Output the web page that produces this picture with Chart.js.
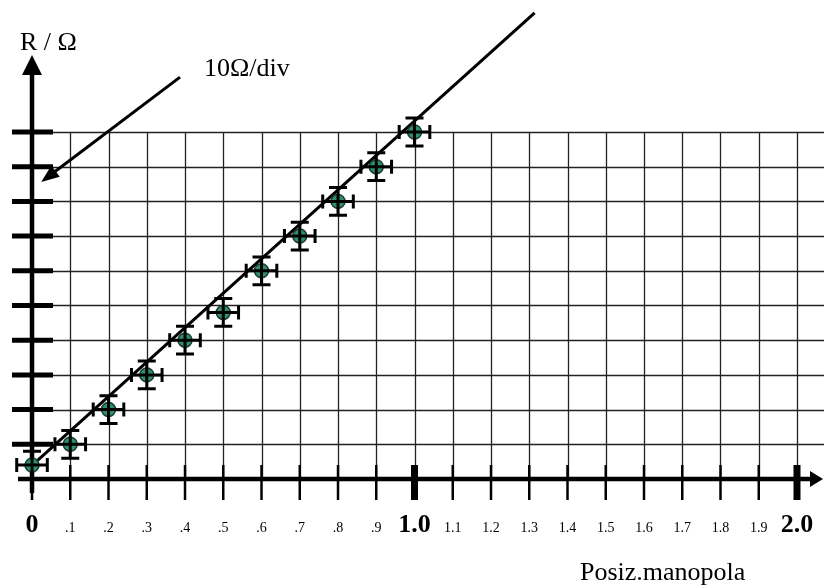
<!DOCTYPE html>
<html>
<head>
<meta charset="utf-8">
<script src="https://cdn.jsdelivr.net/npm/chart.js@4"></script>
<style>
  html, body { margin: 0; padding: 0; background: #fff; }
  #wrap { width: 824px; height: 586px; }
</style>
</head>
<body>
<div id="wrap"><canvas id="chart" width="824" height="586"></canvas></div>
<script>
// measured values (posizione manopola, R in ohm)
const posValues = [0, 0.1, 0.2, 0.3, 0.4, 0.5, 0.6, 0.7, 0.8, 0.9, 1.0];
const rValues = [4, 10, 20, 30, 40, 48, 60, 70, 80, 90, 100];
const posErr = [0.04, 0.04, 0.04, 0.04, 0.04, 0.04, 0.04, 0.04, 0.04, 0.04, 0.04];
const rErr = [4, 4, 4, 4, 4, 4, 4, 4, 4, 4, 4];

// fitted straight line, two ends
const fitX = [-0.013, 1.314];
const fitY = [2.6, 134.3];

// axis ticks
const xTicks = [0, 0.1, 0.2, 0.3, 0.4, 0.5, 0.6, 0.7, 0.8, 0.9, 1.0,
                1.1, 1.2, 1.3, 1.4, 1.5, 1.6, 1.7, 1.8, 1.9, 2.0];
const xTickLabels = ['0', '.1', '.2', '.3', '.4', '.5', '.6', '.7', '.8', '.9', '1.0',
                     '1.1', '1.2', '1.3', '1.4', '1.5', '1.6', '1.7', '1.8', '1.9', '2.0'];
const xMajor = ['0', '1.0', '2.0'];
const yTicks = [10, 20, 30, 40, 50, 60, 70, 80, 90, 100];

// "10 ohm/div" pointer, in data units
const noteTail = { x: 0.387, y: 115.8 };
const noteTip = { x: 0.024, y: 85.6 };

const SERIF = '"Liberation Serif", "DejaVu Serif", serif';

function arrowHead(ctx, tipX, tipY, fromX, fromY, len, half) {
    const a = Math.atan2(tipY - fromY, tipX - fromX);
    ctx.beginPath();
    ctx.moveTo(tipX, tipY);
    ctx.lineTo(tipX - len * Math.cos(a) + half * Math.sin(a), tipY - len * Math.sin(a) - half * Math.cos(a));
    ctx.lineTo(tipX - len * Math.cos(a) - half * Math.sin(a), tipY - len * Math.sin(a) + half * Math.cos(a));
    ctx.closePath();
    ctx.fill();
}

// grid, axes, ticks and labels drawn from the scales
const paperPlugin = {
    id: 'paper',
    beforeDatasetsDraw(chart) {
        const ctx = chart.ctx;
        const xs = chart.scales.x, ys = chart.scales.y;
        const x0 = xs.getPixelForValue(0);
        const y0 = ys.getPixelForValue(0);
        const yTop = ys.getPixelForValue(100);
        ctx.save();
        ctx.strokeStyle = '#222';
        ctx.lineWidth = 1.3;
        // horizontal grid
        yTicks.forEach(v => {
            const py = Math.round(ys.getPixelForValue(v)) + 0.5;
            ctx.beginPath();
            ctx.moveTo(x0, py);
            ctx.lineTo(chart.width, py);
            ctx.stroke();
        });
        // vertical grid
        xTicks.forEach(v => {
            if (v === 0) return;
            const px = Math.round(xs.getPixelForValue(v)) + 0.5;
            ctx.beginPath();
            ctx.moveTo(px, yTop);
            ctx.lineTo(px, y0);
            ctx.stroke();
        });

        ctx.strokeStyle = '#000';
        ctx.fillStyle = '#000';
        // x ticks
        xTicks.forEach((v, i) => {
            const px = xs.getPixelForValue(v);
            ctx.lineWidth = (xMajor.includes(xTickLabels[i]) && v !== 0) ? 7 : 2.5;
            ctx.beginPath();
            ctx.moveTo(px, y0 - 14);
            ctx.lineTo(px, y0 + 21);
            ctx.stroke();
        });
        // y ticks
        ctx.lineWidth = 5;
        yTicks.forEach(v => {
            const py = ys.getPixelForValue(v);
            ctx.beginPath();
            ctx.moveTo(x0 - 20, py);
            ctx.lineTo(x0 + 21, py);
            ctx.stroke();
        });

        // axes with arrows
        ctx.lineWidth = 4.5;
        ctx.beginPath();
        ctx.moveTo(x0 - 14, y0);
        ctx.lineTo(chart.width - 10, y0);
        ctx.stroke();
        arrowHead(ctx, chart.width - 1, y0, x0, y0, 13, 8);
        ctx.beginPath();
        ctx.moveTo(x0, y0 + 14);
        ctx.lineTo(x0, 70);
        ctx.stroke();
        arrowHead(ctx, x0, 55, x0, y0, 20, 10);

        // tick labels
        ctx.textAlign = 'center';
        ctx.textBaseline = 'alphabetic';
        xTicks.forEach((v, i) => {
            const lab = xTickLabels[i];
            const major = xMajor.includes(lab);
            ctx.font = major ? 'bold 26px ' + SERIF : '14px ' + SERIF;
            ctx.fillText(lab, xs.getPixelForValue(v), 532);
        });

        // titles
        ctx.textAlign = 'left';
        ctx.font = '26px ' + SERIF;
        ctx.fillText('R / Ω', 20, 50);
        ctx.fillText('10Ω/div', 204, 76);
        ctx.fillText('Posiz.manopola', 580, 580);

        // pointer arrow
        const tx = xs.getPixelForValue(noteTail.x), ty = ys.getPixelForValue(noteTail.y);
        const hx = xs.getPixelForValue(noteTip.x), hy = ys.getPixelForValue(noteTip.y);
        ctx.lineWidth = 3;
        ctx.beginPath();
        ctx.moveTo(tx, ty);
        ctx.lineTo(hx + (tx - hx) * 0.1, hy + (ty - hy) * 0.1);
        ctx.stroke();
        arrowHead(ctx, hx, hy, tx, ty, 18, 7);
        ctx.restore();
    },
    afterDatasetsDraw(chart) {
        const ctx = chart.ctx;
        const xs = chart.scales.x, ys = chart.scales.y;
        ctx.save();
        ctx.strokeStyle = '#000';
        ctx.lineWidth = 3;
        posValues.forEach((p, i) => {
            const px = xs.getPixelForValue(p), py = ys.getPixelForValue(rValues[i]);
            const xl = xs.getPixelForValue(p - posErr[i]), xr = xs.getPixelForValue(p + posErr[i]);
            const yt = ys.getPixelForValue(rValues[i] + rErr[i]), yb = ys.getPixelForValue(rValues[i] - rErr[i]);
            ctx.beginPath();
            ctx.moveTo(xl, py); ctx.lineTo(xr, py);
            ctx.moveTo(xl, py - 7); ctx.lineTo(xl, py + 7);
            ctx.moveTo(xr, py - 7); ctx.lineTo(xr, py + 7);
            ctx.moveTo(px, yt); ctx.lineTo(px, yb);
            ctx.moveTo(px - 9, yt); ctx.lineTo(px + 9, yt);
            ctx.moveTo(px - 9, yb); ctx.lineTo(px + 9, yb);
            ctx.stroke();
        });
        ctx.restore();
    }
};

const ctx = document.getElementById('chart').getContext('2d');
new Chart(ctx, {
    type: 'scatter',
    data: {
        datasets: [
            {
                label: 'misure',
                data: posValues.map((p, i) => ({ x: p, y: rValues[i] })),
                backgroundColor: '#2f8f6f',
                borderColor: '#1b3d30',
                borderWidth: 1.5,
                pointRadius: 7,
                order: 1
            },
            {
                label: 'fit',
                type: 'line',
                data: fitX.map((x, i) => ({ x: x, y: fitY[i] })),
                borderColor: '#000',
                borderWidth: 3,
                pointRadius: 0,
                fill: false,
                order: 2
            }
        ]
    },
    options: {
        responsive: false,
        animation: false,
        layout: { padding: 0, autoPadding: false },
        plugins: {
            legend: { display: false },
            tooltip: { enabled: false }
        },
        scales: {
            x: { type: 'linear', display: false, min: -0.0837, max: 2.0706 },
            y: { type: 'linear', display: false, min: -30.84, max: 138.04 }
        }
    },
    plugins: [paperPlugin]
});
</script>
</body>
</html>
